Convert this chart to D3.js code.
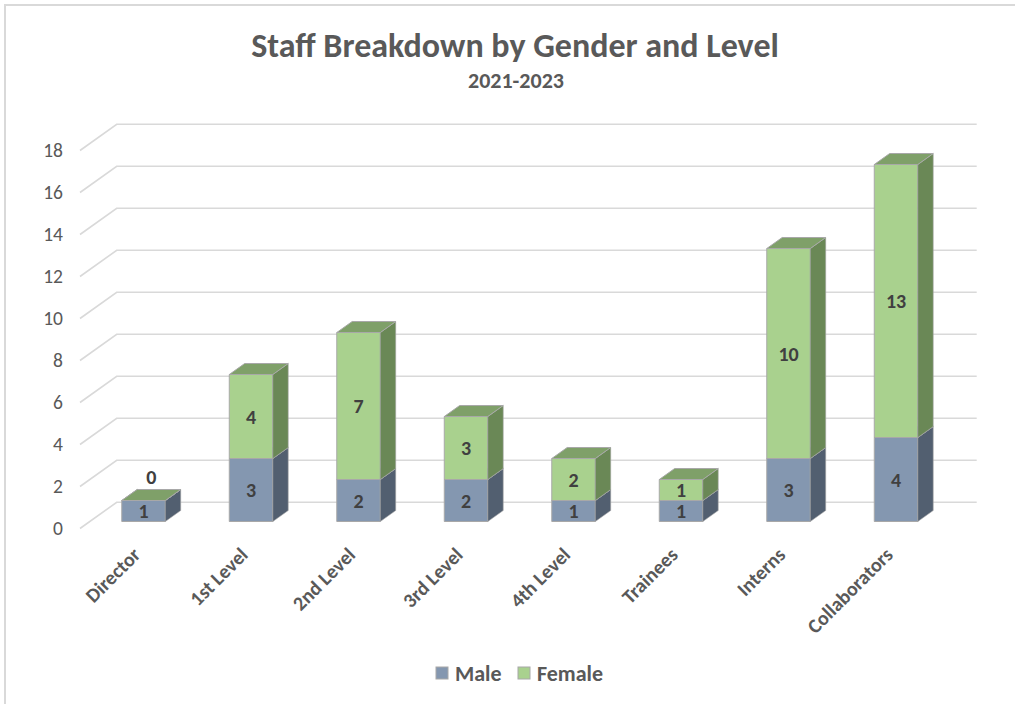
<!DOCTYPE html>
<html>
<head>
<meta charset="utf-8">
<script src="https://cdn.jsdelivr.net/npm/d3@7"></script>
<style>
  html, body { margin: 0; padding: 0; background: #ffffff; }
  svg { display: block; }
  text { font-family: Calibri, Carlito, Lato, "Open Sans", sans-serif; }
</style>
</head>
<body>
<svg id="chart" width="1015" height="704"></svg>
<script>
// ---- data ----
const categories = ["Director", "1st Level", "2nd Level", "3rd Level", "4th Level", "Trainees", "Interns", "Collaborators"];
const maleValues = [1, 3, 2, 2, 1, 1, 3, 4];
const femaleValues = [0, 4, 7, 3, 2, 1, 10, 13];
const seriesNames = ["Male", "Female"];
const yTicks = [0, 2, 4, 6, 8, 10, 12, 14, 16, 18];
const titleText = "Staff Breakdown by Gender and Level";
const subtitleText = "2021-2023";

// ---- layout ----
const W = 1015, H = 704;
const svg = d3.select("#chart");

const floorFrontY = 528.5;          // y of value 0 at the front edge of the floor
const depthVec = [36.7, -26.2];     // oblique depth vector (front -> back)
const barDepth = [0.267, 0.687];    // bars occupy this slice of the floor depth

const x = d3.scaleBand().domain(categories).range([80, 940]).padding(0);
const barW = x.bandwidth() * 0.405;
const y = d3.scaleLinear().domain([0, 18]).range([0, 378]); // value -> height

function P(px, v, f) {
  return [px + depthVec[0] * f, floorFrontY - y(v) + depthVec[1] * f];
}

const colors = {
  Male:   { front: "#8497b0", side: "#525f70", top: "#6c7f98" },
  Female: { front: "#a9d18e", side: "#6a8856", top: "#7fa069" }
};
const edge = "#a8a8a8";

// chart border
svg.append("rect")
  .attr("x", 5).attr("y", 5).attr("width", W + 20).attr("height", H + 20)
  .attr("fill", "none").attr("stroke", "#d9d9d9").attr("stroke-width", 2);

// ---- title ----
svg.append("text").attr("x", 515).attr("y", 57)
  .attr("text-anchor", "middle").attr("font-size", 34).attr("font-weight", "bold")
  .attr("fill", "#595959").text(titleText);
svg.append("text").attr("x", 516).attr("y", 88)
  .attr("text-anchor", "middle").attr("font-size", 22).attr("font-weight", "bold")
  .attr("fill", "#595959").text(subtitleText);

// ---- gridlines (left wall slant + back wall horizontal) ----
const gridG = svg.append("g");
const line = d3.line();
yTicks.forEach(v => {
  const a = P(x.range()[0], v, 0);
  const b = P(x.range()[0], v, 1);
  const c = P(x.range()[1], v, 1);
  gridG.append("path").attr("d", line([a, b, c]))
    .attr("fill", "none").attr("stroke", "#d9d9d9").attr("stroke-width", 1.6);
});

// y tick labels
svg.append("g").selectAll("text").data(yTicks).join("text")
  .attr("x", 63).attr("y", d => P(0, d, 0)[1])
  .attr("dy", "0.35em").attr("text-anchor", "end")
  .attr("font-size", 19.5).attr("fill", "#595959").text(d => d);

// ---- bars ----
const barsG = svg.append("g");
const labelsG = svg.append("g");
function drawBox(x0, v0, v1, c) {
  const x1 = x0 + barW;
  const f0 = barDepth[0], f1 = barDepth[1];
  const poly = pts => "M" + pts.map(p => p.join(",")).join("L") + "Z";
  // front
  barsG.append("path").attr("d", poly([P(x0, v0, f0), P(x1, v0, f0), P(x1, v1, f0), P(x0, v1, f0)]))
    .attr("fill", c.front).attr("stroke", edge).attr("stroke-width", 1);
  // right side
  barsG.append("path").attr("d", poly([P(x1, v0, f0), P(x1, v0, f1), P(x1, v1, f1), P(x1, v1, f0)]))
    .attr("fill", c.side).attr("stroke", edge).attr("stroke-width", 0.6);
  // top
  barsG.append("path").attr("d", poly([P(x0, v1, f0), P(x1, v1, f0), P(x1, v1, f1), P(x0, v1, f1)]))
    .attr("fill", c.top).attr("stroke", edge).attr("stroke-width", 1);
}

categories.forEach((cat, i) => {
  const x0 = x(cat) + (x.bandwidth() - barW) / 2;
  const m = maleValues[i], fe = femaleValues[i];
  drawBox(x0, 0, m, colors.Male);
  drawBox(x0, m, m + fe, colors.Female);

  const fx = x0 + barW / 2;
  const f0 = barDepth[0];
  // male label
  const pm = P(fx, m / 2, f0);
  labelsG.append("text").attr("x", pm[0]).attr("y", pm[1]).attr("dy", "0.36em")
    .attr("text-anchor", "middle").attr("font-size", 20).attr("font-weight", "bold")
    .attr("fill", "#404040").text(m);
  // female label
  let pf;
  if (fe === 0) {
    const topC = P(fx, m, (barDepth[0] + barDepth[1]) / 2);
    pf = [topC[0], topC[1] - 18];
  } else {
    pf = P(fx, m + fe / 2, f0);
  }
  labelsG.append("text").attr("x", pf[0]).attr("y", pf[1]).attr("dy", "0.36em")
    .attr("text-anchor", "middle").attr("font-size", 20).attr("font-weight", "bold")
    .attr("fill", "#404040").text(fe);
});

// ---- x axis labels ----
svg.append("g").selectAll("text").data(categories).join("text")
  .attr("transform", d => {
    const cx = x(d) + x.bandwidth() / 2 + depthVec[0] * barDepth[0];
    return `translate(${cx - 2},556) rotate(-45)`;
  })
  .attr("text-anchor", "end").attr("font-size", 20).attr("font-weight", "bold")
  .attr("fill", "#595959").text(d => d);

// ---- legend ----
const legendItems = [
  { name: seriesNames[0], fill: colors.Male.front, sx: 436 },
  { name: seriesNames[1], fill: colors.Female.front, sx: 518 }
];
const lg = svg.append("g");
legendItems.forEach(it => {
  lg.append("rect").attr("x", it.sx).attr("y", 667).attr("width", 12).attr("height", 12)
    .attr("fill", it.fill).attr("stroke", edge).attr("stroke-width", 1);
  lg.append("text").attr("x", it.sx + 19).attr("y", 673).attr("dy", "0.35em")
    .attr("font-size", 22).attr("font-weight", "bold").attr("fill", "#595959").text(it.name);
});
</script>
</body>
</html>
